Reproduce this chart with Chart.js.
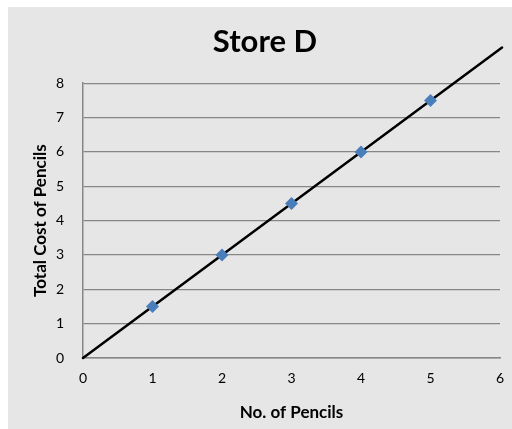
<!DOCTYPE html>
<html><head><meta charset="utf-8">
<script src="https://cdn.jsdelivr.net/npm/chart.js@4/dist/chart.umd.min.js"></script>
<style>html,body{margin:0;padding:0;background:#fff;}#wrap{width:512px;height:429px;}</style>
</head><body><div id="wrap"><canvas id="c" width="512" height="429"></canvas></div>
<script>
const titleText = "Store D";
const xTitle = "No. of Pencils";
const yTitle = "Total Cost of Pencils";
const pencils = [1, 2, 3, 4, 5];
const cost = [1.5, 3, 4.5, 6, 7.5];
const lineX = [0, 6.03];
const lineY = [0, 9.04];
const xMin = 0, xMax = 6, yMin = 0, yMax = 8;

const panel = {
  id: 'panel',
  beforeDraw(chart) {
    const ctx = chart.ctx;
    ctx.save();
    ctx.fillStyle = '#e6e6e6';
    ctx.fillRect(8, 7, 504, 422);
    ctx.restore();
  }
};

const font = "Lato, 'Open Sans', sans-serif";

new Chart(document.getElementById('c'), {
  type: 'scatter',
  data: {
    datasets: [
      {
        type: 'line',
        data: lineX.map((x, i) => ({x: x, y: lineY[i]})),
        borderColor: '#000',
        borderWidth: 2.5,
        pointRadius: 0,
        borderCapStyle: 'round',
        clip: false,
        order: 2
      },
      {
        data: pencils.map((x, i) => ({x: x, y: cost[i]})),
        pointStyle: 'rectRot',
        pointRadius: 6.5,
        backgroundColor: '#4a7ebb',
        borderColor: '#4a7ebb',
        borderWidth: 0,
        order: 1
      }
    ]
  },
  options: {
    responsive: false,
    animation: false,
    devicePixelRatio: 1,
    layout: {padding: {left: 30, right: 12, top: 7, bottom: 0}},
    plugins: {
      legend: {display: false},
      tooltip: {enabled: false},
      title: {
        display: true,
        text: titleText,
        color: '#000',
        font: {family: font, size: 31, weight: 'bold'},
        padding: {top: 16, bottom: 23}
      }
    },
    scales: {
      x: {
        type: 'linear', min: xMin, max: xMax,
        ticks: {stepSize: 1, color: '#000', font: {family: font, size: 14}, padding: 12},
        grid: {display: false, drawTicks: false},
        border: {display: true, color: '#868686', width: 1.5},
        title: {display: true, text: xTitle, color: '#000', font: {family: font, size: 17, weight: 'bold'}, padding: {top: 4, bottom: 6}},
        afterFit(s) { s.height = 429 - 358; s.paddingRight = 0; s.paddingLeft = 0; }
      },
      y: {
        type: 'linear', min: yMin, max: yMax,
        ticks: {stepSize: 1, color: '#000', font: {family: font, size: 14}, padding: 19},
        grid: {color: '#868686', lineWidth: 1.2, drawTicks: false},
        border: {display: true, color: '#868686', width: 1.5},
        title: {display: true, text: yTitle, color: '#000', font: {family: font, size: 17, weight: 'bold'}, padding: 0},
        afterFit(s) { s.width = 83 - 30; s.paddingTop = 0; s.paddingBottom = 0; }
      }
    }
  },
  plugins: [panel]
});
</script></body></html>
